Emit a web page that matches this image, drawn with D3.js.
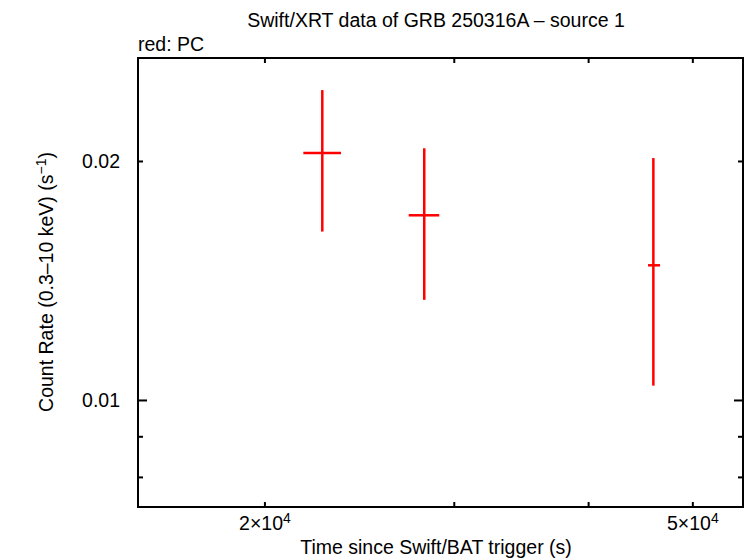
<!DOCTYPE html>
<html>
<head>
<meta charset="utf-8">
<script src="https://d3js.org/d3.v7.min.js"></script>
<style>
  body { margin: 0; background: #fff; }
  svg { display: block; font-family: 'Liberation Sans', Arial, sans-serif; }
</style>
</head>
<body>
<script>
// Light curve points (PC mode)
const times = [22614, 28132, 45947]
const timeLo = [21714, 27210, 45429]
const timeHi = [23539, 29050, 46611]
const rates = [0.02050, 0.01711, 0.01480]
const rateLo = [0.01632, 0.01339, 0.01044]
const rateHi = [0.02460, 0.02078, 0.02020]

// Axis ticks
const xMinorTicks = [20000, 30000, 40000, 50000]
const xLabelTicks = [20000, 50000]
const yMajorTicks = [0.01]
const yMinorTicks = [0.008, 0.009, 0.02]
const yLabelTicks = [0.01, 0.02]

const width = 746
const height = 558
const margin = { top: 58, right: 3, bottom: 51, left: 138 }
const fontSize = 19.5
const supSize = 14

const svg = d3.select('body').append('svg')
  .attr('width', width)
  .attr('height', height)

const xScale = d3.scaleLog()
  .domain([15240, 55670])
  .range([margin.left, width - margin.right])

const yScale = d3.scaleLog()
  .domain([0.007342, 0.0270])
  .range([height - margin.bottom, margin.top])

const x0 = margin.left
const x1 = width - margin.right
const y0 = height - margin.bottom
const y1 = margin.top

// ticks on all four sides, pointing inwards
const ticks = svg.append('g').attr('stroke', '#000').attr('stroke-width', 2)

function xTicks (values, len) {
  ticks.selectAll(null).data(values).join('line')
    .attr('x1', d => xScale(d)).attr('x2', d => xScale(d))
    .attr('y1', y0).attr('y2', y0 - len)
  ticks.selectAll(null).data(values).join('line')
    .attr('x1', d => xScale(d)).attr('x2', d => xScale(d))
    .attr('y1', y1).attr('y2', y1 + len)
}
function yTicks (values, len) {
  ticks.selectAll(null).data(values).join('line')
    .attr('y1', d => yScale(d)).attr('y2', d => yScale(d))
    .attr('x1', x0).attr('x2', x0 + len)
  ticks.selectAll(null).data(values).join('line')
    .attr('y1', d => yScale(d)).attr('y2', d => yScale(d))
    .attr('x1', x1).attr('x2', x1 - len)
}
xTicks(xMinorTicks, 5)
yTicks(yMinorTicks, 5)
yTicks(yMajorTicks, 9)

// frame
svg.append('rect')
  .attr('x', x0).attr('y', y1)
  .attr('width', x1 - x0).attr('height', y0 - y1)
  .attr('fill', 'none').attr('stroke', '#000').attr('stroke-width', 2)

// tick labels
svg.append('g').selectAll('text').data(yLabelTicks).join('text')
  .attr('x', x0 - 18)
  .attr('y', d => yScale(d))
  .attr('dy', '0.36em')
  .attr('text-anchor', 'end')
  .attr('font-size', fontSize)
  .text(d => d3.format('.2f')(d))

const xl = svg.append('g').selectAll('text').data(xLabelTicks).join('text')
  .attr('x', d => xScale(d))
  .attr('y', y0 + 23)
  .attr('text-anchor', 'middle')
  .attr('font-size', fontSize)
xl.append('tspan').text(d => (d / 10000) + '×10')
xl.append('tspan').attr('font-size', supSize).attr('dy', -7).text('4')

// error bars
const pts = svg.append('g').attr('stroke', '#ff0000').attr('stroke-width', 2.5)
pts.selectAll(null).data(times).join('line')
  .attr('x1', d => xScale(d)).attr('x2', d => xScale(d))
  .attr('y1', (d, i) => yScale(rateLo[i]))
  .attr('y2', (d, i) => yScale(rateHi[i]))
pts.selectAll(null).data(times).join('line')
  .attr('x1', (d, i) => xScale(timeLo[i]))
  .attr('x2', (d, i) => xScale(timeHi[i]))
  .attr('y1', (d, i) => yScale(rates[i]))
  .attr('y2', (d, i) => yScale(rates[i]))

// titles
svg.append('text')
  .attr('x', 436).attr('y', 27)
  .attr('text-anchor', 'middle')
  .attr('font-size', fontSize)
  .text('Swift/XRT data of GRB 250316A – source 1')

svg.append('text')
  .attr('x', 138).attr('y', 51)
  .attr('font-size', fontSize)
  .text('red: PC')

svg.append('text')
  .attr('x', 436).attr('y', 554)
  .attr('text-anchor', 'middle')
  .attr('font-size', fontSize)
  .text('Time since Swift/BAT trigger (s)')

const yl = svg.append('text')
  .attr('transform', 'translate(53,282) rotate(-90)')
  .attr('text-anchor', 'middle')
  .attr('font-size', fontSize)
yl.append('tspan').text('Count Rate (0.3–10 keV) (s')
yl.append('tspan').attr('font-size', supSize).attr('dy', -7).text('−1')
yl.append('tspan').attr('dy', 7).text(')')
</script>
</body>
</html>
